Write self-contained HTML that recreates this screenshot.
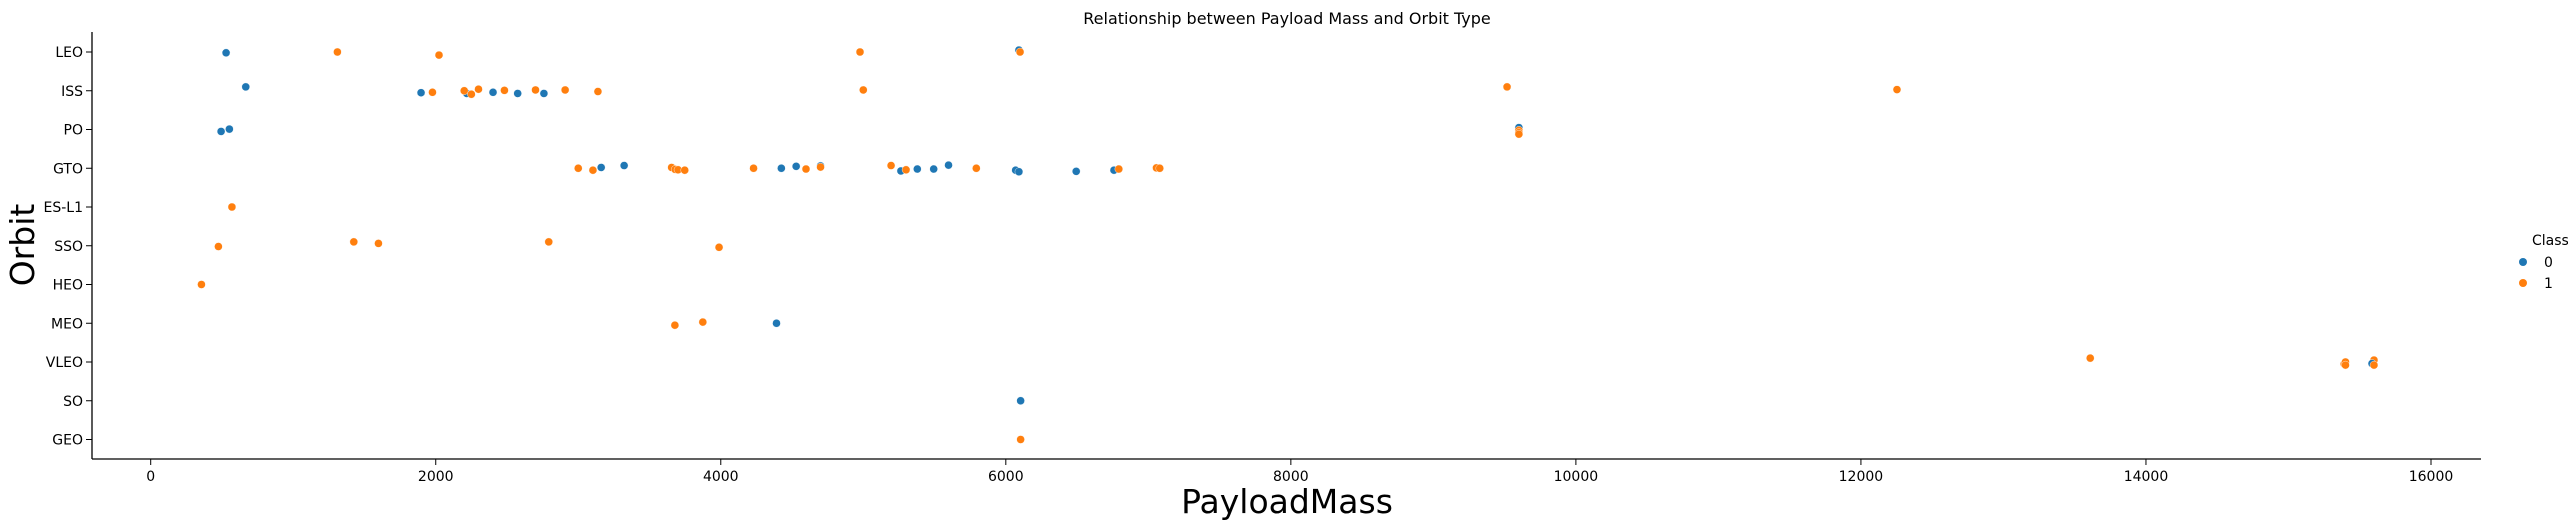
<!DOCTYPE html>
<html><head><meta charset="utf-8"><style>
body{margin:0;background:#fff}
svg{display:block;font-family:"DejaVu Sans","Liberation Sans",sans-serif}
</style></head><body>
<svg id="chart" width="2568" height="526" xmlns="http://www.w3.org/2000/svg">
<text x="1287" y="24" text-anchor="middle" font-size="16">Relationship between Payload Mass and Orbit Type</text>
<text x="1287" y="513" text-anchor="middle" font-size="33">PayloadMass</text>
<text transform="translate(34,245) rotate(-90)" text-anchor="middle" font-size="33">Orbit</text>
<g id="axes"></g><g id="marks"></g>
<text x="2532" y="245" font-size="14">Class</text>
<g><circle cx="2523" cy="262" r="4" fill="#1f77b4"/><text x="2544" y="267" font-size="14">0</text></g>
<g><circle cx="2523" cy="283" r="4" fill="#ff7f0e"/><text x="2544" y="288" font-size="14">1</text></g>
</svg>
<script>
const categories=["LEO","ISS","PO","GTO","ES-L1","SSO","HEO","MEO","VLEO","SO","GEO"];
const xTicks=[0,2000,4000,6000,8000,10000,12000,14000,16000];
const payload=[529,1310,2023,4977,6092,6100,
667,1897,2218,1977,2200,2250,2300,2402,2482,2575,2700,2759,2908,3138,5000,9517,12253,
494,552,9600,9600,9600,9600,
3000,3103,3161,3322,3655,3680,3700,3747,4230,4425,4529,4598,4700,4700,5195,5264,5300,5379,5494,5598,5793,6069,6092,6494,6759,6793,7057,7080,
570,475,1425,1598,2793,3988,356,3678,3874,4391,
13609,15391,15400,15400,15600,15586,15600,6104,6104];
const orbitIdx=[0,0,0,0,0,0,
1,1,1,1,1,1,1,1,1,1,1,1,1,1,1,1,1,
2,2,2,2,2,2,
3,3,3,3,3,3,3,3,3,3,3,3,3,3,3,3,3,3,3,3,3,3,3,3,3,3,3,3,
4,5,5,5,5,5,6,7,7,7,
8,8,8,8,8,8,8,9,10];
const cls=[0,1,1,1,0,1,
0,0,0,1,1,1,1,0,1,0,1,0,1,1,1,1,1,
0,0,0,1,1,1,
1,1,0,0,1,1,1,1,1,0,0,1,0,1,1,0,1,0,0,0,1,0,0,0,0,1,1,1,
1,1,1,1,1,1,1,1,1,0,
1,1,1,1,1,0,1,0,1];
const jitter=[0.02,0.0,0.08,0.0,-0.05,0.0,
-0.1,0.05,0.07,0.04,0.0,0.09,-0.04,0.04,-0.01,0.07,-0.02,0.07,-0.02,0.02,-0.02,-0.1,-0.03,
0.05,-0.01,-0.05,0.02,0.08,0.12,
0.0,0.05,-0.02,-0.07,-0.02,0.03,0.04,0.05,0.0,0.0,-0.05,0.02,-0.06,-0.03,-0.07,0.07,0.04,0.02,0.02,-0.08,0.0,0.05,0.09,0.08,0.05,0.02,-0.01,0.0,
0.0,0.02,-0.1,-0.06,-0.1,0.04,0.0,0.05,-0.03,0.0,
-0.1,0.05,0.0,0.08,-0.05,0.04,0.08,0.0,0.0];
const L=92,R=2481,T=32,B=459,x0=150.7,x1=2431;
const xs=v=>x0+(v/16000)*(x1-x0);
const ys=(i,j)=>52+(i+j)*38.75;
const NS="http://www.w3.org/2000/svg";
function mk(tag,attrs,parent){const e=document.createElementNS(NS,tag);for(const k in attrs)e.setAttribute(k,attrs[k]);parent.appendChild(e);return e;}
const ax=document.getElementById('axes');
const ly=mk('line',{x1:L,y1:T,x2:L,y2:B,stroke:'#000','stroke-width':1.3},ax);


const lx=mk('line',{x1:L,y1:B,x2:R,y2:B,stroke:'#000','stroke-width':1.3},ax);


xTicks.forEach(t=>{
 const x=xs(t);
 mk('line',{x1:x,y1:B,x2:x,y2:B+6,stroke:'#000'},ax);
 const tx=mk('text',{x:x,y:B+22,'text-anchor':'middle','font-size':14},ax);
 tx.textContent=t;
 
 
});
categories.forEach((c,i)=>{
 const y=ys(i,0);
 mk('line',{x1:L-6,y1:y,x2:L,y2:y,stroke:'#000'},ax);
 const tx=mk('text',{x:L-9,y:y+5,'text-anchor':'end','font-size':14},ax);
 tx.textContent=c;
 
 
});
const mg=document.getElementById('marks');
payload.forEach((v,k)=>{
 const c=mk('circle',{cx:xs(v),cy:ys(orbitIdx[k],jitter[k]),r:4,fill:cls[k]?'#ff7f0e':'#1f77b4',stroke:'#fff','stroke-width':0.4},mg);
 
 
});
</script>
</body></html>
